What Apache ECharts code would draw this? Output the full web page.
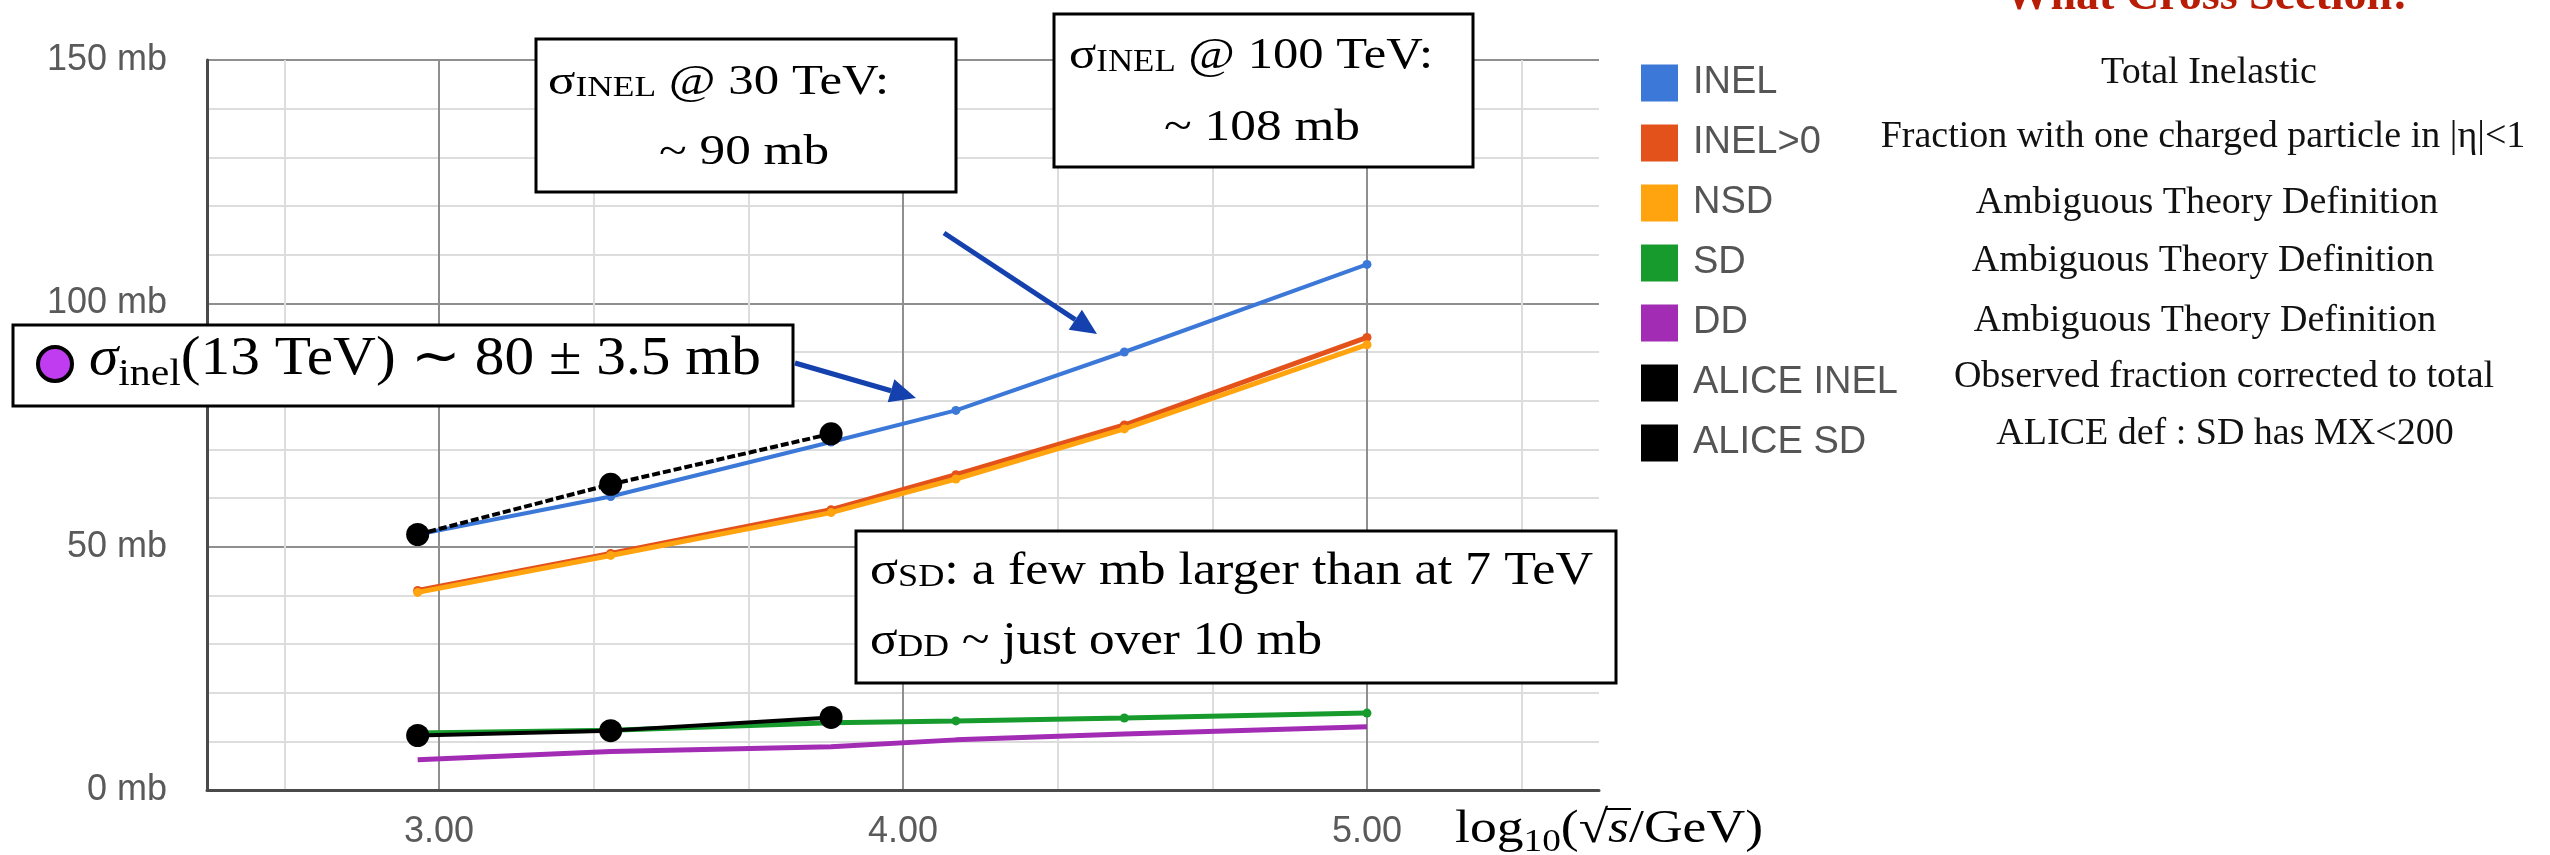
<!DOCTYPE html>
<html>
<head>
<meta charset="utf-8">
<script src="https://cdn.jsdelivr.net/npm/echarts@6/dist/echarts.min.js"></script>
<style>
  html, body { margin: 0; padding: 0; background: #ffffff; }
  #chart { width: 2550px; height: 855px; }
</style>
</head>
<body>
<div id="chart"></div>
<script>
// Collision energy on the x axis: log10(sqrt(s) / GeV)
const logSqrtS = [2.954, 3.37, 3.845, 4.114, 4.477, 5.0];
const aliceLogSqrtS = [2.954, 3.37, 3.845];

// Cross sections in mb
const inel    = [52.5, 60.3, 71.5, 78.0, 90.0, 108.0];
const inelGt0 = [41.0, 48.6, 57.6, 64.8, 75.0, 93.0];
const nsd     = [40.6, 48.2, 57.0, 63.9, 74.2, 91.5];
const sd      = [11.7, 12.3, 13.8, 14.2, 14.8, 15.8];
const dd      = [6.2, 7.9, 8.9, 10.3, 11.5, 13.0];
const aliceInel = [52.5, 62.8, 73.2];
const aliceSd   = [11.2, 12.2, 14.9];

// Axis ticks
const xMajorTicks = [3, 4, 5];
const xMinorTicks = [8 / 3, 10 / 3, 11 / 3, 13 / 3, 14 / 3, 16 / 3];
const yMajorStep = 50;

// Legend names and the notes printed next to them
const seriesNames = ['INEL', 'INEL>0', 'NSD', 'SD', 'DD', 'ALICE INEL', 'ALICE SD'];
const seriesNotes = [
  'Total Inelastic',
  'Fraction with one charged particle in |\u03b7|<1',
  'Ambiguous Theory Definition',
  'Ambiguous Theory Definition',
  'Ambiguous Theory Definition',
  'Observed fraction corrected to total',
  'ALICE def : SD has MX<200'
];

const SERIF = '"Liberation Serif", "Times New Roman", serif';
const SANS = '"Liberation Sans", Arial, sans-serif';
const NARROW = '"Liberation Sans Narrow", "Arial Narrow", "Liberation Sans", sans-serif';

const pairs = (xs, ys) => ys.map((y, i) => [xs[i], y]);

// ---- text layout helpers (measure runs so mixed-size text sits on one baseline)
const mctx = document.createElement('canvas').getContext('2d');
function fontOf(t) {
  return (t.italic ? 'italic ' : '') + (t.bold ? 'bold ' : '') + t.size + 'px ' + (t.family || SERIF);
}
function midOffset(font) {
  mctx.font = font;
  const m = mctx.measureText('Hg');
  return (m.fontBoundingBoxAscent - m.fontBoundingBoxDescent) / 2;
}
function textRun(tokens, x0, baseline, target, color) {
  const fonts = tokens.map(fontOf);
  const widths = tokens.map((t, i) => { mctx.font = fonts[i]; return mctx.measureText(t.text).width; });
  const total = widths.reduce((a, b) => a + b, 0);
  const sx = target ? target / total : 1;
  let x = x0;
  const els = [], spans = [];
  tokens.forEach((t, i) => {
    els.push({
      type: 'text', x: x, y: baseline + (t.dy || 0) - midOffset(fonts[i]), scaleX: sx, z: 100,
      style: { text: t.text, font: fonts[i], fill: color || '#000',
               align: 'left', textAlign: 'left', verticalAlign: 'middle', textVerticalAlign: 'middle' }
    });
    spans.push({ x: x, w: widths[i] * sx });
    x += widths[i] * sx;
  });
  return { els, spans };
}
function centeredText(text, cx, cy, font, color) {
  return { type: 'text', x: cx, y: cy, z: 100,
           style: { text, font, fill: color || '#000', align: 'center', textAlign: 'center',
                    verticalAlign: 'middle', textVerticalAlign: 'middle' } };
}
function box(x, y, w, h) {
  return { type: 'rect', z: 90, shape: { x, y, width: w, height: h },
           style: { fill: '#ffffff', stroke: '#000000', lineWidth: 3 } };
}
function arrow(x1, y1, x2, y2, color) {
  const a = Math.atan2(y2 - y1, x2 - x1), L = 26, W = 12;
  const bx = x2 - L * Math.cos(a), by = y2 - L * Math.sin(a);
  const px = -Math.sin(a) * W, py = Math.cos(a) * W;
  return [
    { type: 'line', z: 100, shape: { x1, y1, x2: bx, y2: by }, style: { stroke: color, lineWidth: 5 } },
    { type: 'polygon', z: 100, shape: { points: [[x2, y2], [bx + px, by + py], [bx - px, by - py]] }, style: { fill: color } }
  ];
}

// ---- annotation graphics
const graphics = [];
const ARROW = '#1441ad';

// sigma_INEL @ 30 TeV
graphics.push(box(536, 39, 420, 153));
graphics.push(...textRun([{ text: '\u03c3', size: 43 }, { text: 'INEL', size: 30, dy: 2 }, { text: ' @ 30 TeV:', size: 43 }], 548, 97, 341).els);
graphics.push(...textRun([{ text: '~ 90 mb', size: 43 }], 659, 167, 170).els);

// sigma_INEL @ 100 TeV
graphics.push(box(1054, 14, 419, 153));
graphics.push(...textRun([{ text: '\u03c3', size: 45 }, { text: 'INEL', size: 31, dy: 2 }, { text: ' @ 100 TeV:', size: 45 }], 1069, 71, 364).els);
graphics.push(...textRun([{ text: '~ 108 mb', size: 45 }], 1164, 143, 196).els);

// measured 13 TeV value
graphics.push(box(13, 325, 780, 81));
graphics.push({ type: 'circle', z: 100, shape: { cx: 55, cy: 364, r: 17 }, style: { fill: '#bf3cf0', stroke: '#000', lineWidth: 4 } });
graphics.push(...textRun([
  { text: '\u03c3', size: 54, italic: true },
  { text: 'inel', size: 38, dy: 10 },
  { text: '(13 TeV) \u223c 80 \u00b1 3.5 mb', size: 54 }
], 89, 378, 672).els);

// diffractive note
graphics.push(box(856, 531, 760, 152));
graphics.push(...textRun([{ text: '\u03c3', size: 46 }, { text: 'SD', size: 32, dy: 2 }, { text: ': a few mb larger than at 7 TeV', size: 46 }], 870, 587, 723).els);
graphics.push(...textRun([{ text: '\u03c3', size: 46 }, { text: 'DD', size: 32, dy: 2 }, { text: ' ~ just over 10 mb', size: 46 }], 870, 657, 452).els);

// arrows
graphics.push(...arrow(795, 363, 916, 398, ARROW));
graphics.push(...arrow(944, 233, 1097, 334, ARROW));

// x-axis title: log10(sqrt(s)/GeV)
const xt = textRun([
  { text: 'log', size: 46 },
  { text: '10', size: 32, dy: 9 },
  { text: '(', size: 46 },
  { text: '\u221a', size: 46 },
  { text: 's', size: 46, italic: true },
  { text: '/GeV)', size: 46 }
], 1455, 845, 308);
graphics.push(...xt.els);
graphics.push({ type: 'line', z: 100,
  shape: { x1: xt.spans[3].x + xt.spans[3].w - 2, y1: 809, x2: xt.spans[4].x + xt.spans[4].w + 2, y2: 809 },
  style: { stroke: '#000', lineWidth: 2 } });

// heading and legend notes
graphics.push(centeredText('What Cross Section!', 2206, 13 - midOffset('bold 46px ' + SERIF), 'bold 46px ' + SERIF, '#b81d06'));
const noteX = [2209, 2203, 2207, 2203, 2205, 2224, 2225];
const noteY = [73, 137, 203, 261, 321, 377, 434];
seriesNotes.forEach((t, i) => graphics.push(centeredText(t, noteX[i], noteY[i], '38px ' + SERIF, '#111')));

// ---- chart
const colors = ['#3b78d8', '#e4521b', '#ffa40f', '#169b2c', '#a22cb4', '#000000', '#000000'];
function lineSeries(i, data, opts) {
  return Object.assign({
    name: seriesNames[i], type: 'line', data, xAxisIndex: 0, yAxisIndex: 0,
    symbol: 'circle', symbolSize: 9, showSymbol: true,
    itemStyle: { color: colors[i], borderWidth: 0 },
    lineStyle: { color: colors[i], width: 5 },
    emphasis: { disabled: true }, z: 2 + i
  }, opts || {});
}

const chart = echarts.init(document.getElementById('chart'), null, { renderer: 'canvas' });
chart.setOption({
  animation: false,
  backgroundColor: '#ffffff',
  grid: { left: 207, top: 60, width: 1392, height: 730, containLabel: false, outerBoundsMode: 'none' },
  legend: {
    orient: 'vertical', left: 1636, top: 59,
    itemWidth: 37, itemHeight: 37, itemGap: 22, icon: 'rect',
    itemStyle: { borderWidth: 0 },
    textStyle: { fontFamily: NARROW, fontSize: 38, color: '#555555', lineHeight: 37, padding: [0, 0, 0, 10] },
    data: seriesNames, selectedMode: false
  },
  xAxis: [
    {
      type: 'value', min: 2.5, max: 5.5, position: 'bottom',
      axisLine: { show: true, onZero: false, lineStyle: { color: '#4a4a4a', width: 3 } },
      axisTick: { show: false, customValues: xMajorTicks },
      axisLabel: { customValues: xMajorTicks, formatter: v => v.toFixed(2), margin: 24,
                   fontFamily: SANS, fontSize: 36, color: '#5a5a5a' },
      splitLine: { show: true, lineStyle: { color: '#8f8f8f', width: 2 } },
      z: 1
    },
    {
      type: 'value', min: 2.5, max: 5.5, position: 'top',
      axisLine: { show: false }, axisLabel: { show: false },
      axisTick: { show: false, customValues: xMinorTicks },
      splitLine: { show: true, lineStyle: { color: '#dddddd', width: 2 } },
      z: 0
    }
  ],
  yAxis: {
    type: 'value', min: 0, max: 150, interval: yMajorStep,
    axisLine: { show: true, lineStyle: { color: '#4a4a4a', width: 3 } },
    axisTick: { show: false },
    minorTick: { show: false, splitNumber: 5 },
    axisLabel: { formatter: v => v + ' mb', margin: 40, fontFamily: SANS, fontSize: 36, color: '#5a5a5a' },
    splitLine: { show: true, lineStyle: { color: '#8f8f8f', width: 2 } },
    minorSplitLine: { show: true, lineStyle: { color: '#dddddd', width: 2 } }
  },
  series: [
    lineSeries(0, pairs(logSqrtS, inel), { lineStyle: { color: colors[0], width: 4 } }),
    lineSeries(1, pairs(logSqrtS, inelGt0)),
    lineSeries(2, pairs(logSqrtS, nsd)),
    lineSeries(3, pairs(logSqrtS, sd)),
    lineSeries(4, pairs(logSqrtS, dd), { showSymbol: false, symbolSize: 0 }),
    lineSeries(5, pairs(aliceLogSqrtS, aliceInel), { symbolSize: 23, lineStyle: { color: '#000', width: 4, type: [8, 3] } }),
    lineSeries(6, pairs(aliceLogSqrtS, aliceSd), { symbolSize: 23, lineStyle: { color: '#000', width: 4 } })
  ],
  graphic: { elements: graphics }
});
</script>
</body>
</html>
